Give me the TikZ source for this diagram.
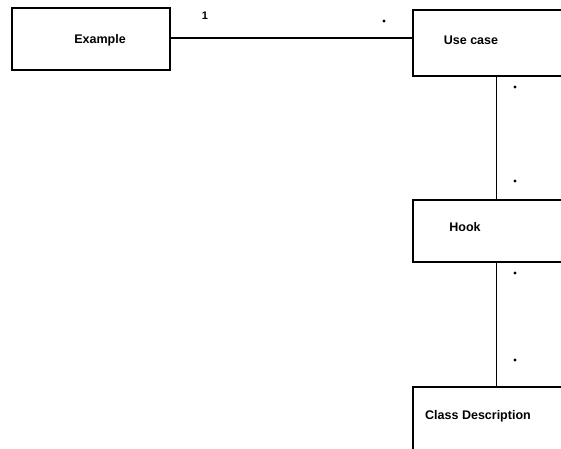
\documentclass[tikz,border=0pt]{standalone}
\usepackage{fontspec}
\setmainfont{Liberation Sans}
\begin{document}
\begin{tikzpicture}[x=1pt,y=-1pt,
  box/.style={draw, line width=1.1pt, rectangle, inner sep=0pt},
  lbl/.style={font=\bfseries\fontsize{12.5}{14}\selectfont},
  mult/.style={font=\bfseries\fontsize{11}{13}\selectfont, inner sep=0pt},
  link/.style={line width=1.1pt}]
\useasboundingbox (0,0) rectangle (561,448);
\clip (0,0) rectangle (561,448);
% class boxes (the right-hand column runs past the frame)
\node[box, minimum width=158pt, minimum height=62pt] (example) at (91,39) {};
\node[box, minimum width=170pt, minimum height=66pt] (usecase) at (498,43) {};
\node[box, minimum width=170pt, minimum height=62pt] (hook) at (498,231) {};
\node[box, minimum width=170pt, minimum height=100pt] (classdesc) at (498,437) {};
% class names
\node[lbl] at (100,40) {Example};
\node[lbl] at (471,40) {Use case};
\node[lbl] at (465,227) {Hook};
\node[lbl] at (478,416) {Class Description};
% associations
\coordinate (uc-foot) at ([xshift=84pt]usecase.south west);
\coordinate (hk-foot) at ([xshift=84pt]hook.south west);
\draw[link] (example.east |- 0,38) -- (usecase.west |- 0,38);
\draw[link] (uc-foot) -- (uc-foot |- hook.north);
\draw[link] (hk-foot) -- (hk-foot |- classdesc.north);
% multiplicities
\node[mult] at (205,16) {1};
\fill (384,21) circle (1.6pt);
\fill (515,87) circle (1.6pt);
\fill (515,181) circle (1.6pt);
\fill (515,273) circle (1.6pt);
\fill (515,360) circle (1.6pt);
\end{tikzpicture}
\end{document}
